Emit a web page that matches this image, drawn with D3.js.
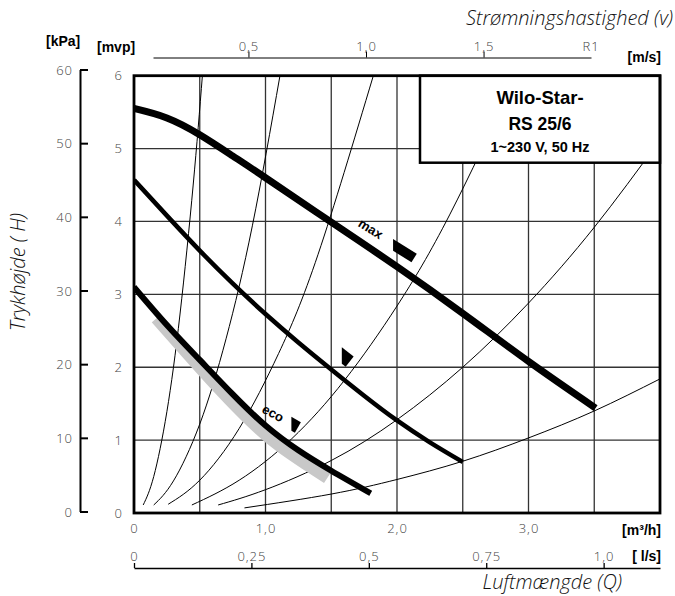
<!DOCTYPE html>
<html>
<head>
<meta charset="utf-8">
<script src="https://cdn.jsdelivr.net/npm/d3@7"></script>
<style>
  body { margin: 0; background: #fff; }
  svg { display: block; }
  .lbl { font-family: "Open Sans", sans-serif; font-size: 13px; font-weight: 300; fill: #444; letter-spacing: 1px; }
  .unit { font-family: "Liberation Sans", Arial, sans-serif; font-size: 14px; font-weight: bold; fill: #000; }
  .title { font-family: "Open Sans", sans-serif; font-style: italic; font-weight: 300; font-size: 20px; fill: #111; }
  .boxtxt { font-family: "Liberation Sans", Arial, sans-serif; font-weight: bold; fill: #000; text-anchor: middle; }
</style>
</head>
<body>
<svg id="chart" width="675" height="596"></svg>
<script>
// --- data ---
// flow axis (m³/h) and grid
const flowTicks  = [0, 1, 2, 3];
const flowLabels = ['0', '1,0', '2,0', '3,0'];
const gridFlow   = [0.5, 1, 1.5, 2, 2.5, 3, 3.5];
const gridHead   = [1, 2, 3, 4, 5];
// head axes
const mvpTicks = [0, 1, 2, 3, 4, 5, 6];
const kpaTicks = [0, 10, 20, 30, 40, 50, 60];
// l/s axis
const lpsTicks  = [0, 0.25, 0.5, 0.75, 1.0];
const lpsLabels = ['0', '0,25', '0,5', '0,75', '1,0'];
// velocity axis (m/s)
const velExtent = [0.094, 1.957];
const velTicks  = [0.5, 1.0, 1.5];
const velLabels = ['0,5', '1,0', '1,5'];

// pump curves [m³/h, mvp]
const curveMax = [[0, 5.55], [0.25, 5.42], [0.5, 5.19], [0.75, 4.9], [1.0, 4.6], [1.5, 3.99],
                  [2.0, 3.38], [2.5, 2.74], [3.0, 2.08], [3.51, 1.44]];
const curveMid = [[0, 4.57], [0.25, 4.08], [0.5, 3.6], [0.75, 3.15], [1.0, 2.73], [1.25, 2.34],
                  [1.5, 1.97], [1.75, 1.61], [2.0, 1.27], [2.25, 0.97], [2.5, 0.70]];
const curveEco = [[0, 3.1], [0.25, 2.58], [0.5, 2.1], [0.75, 1.63], [1.0, 1.2], [1.25, 0.86],
                  [1.5, 0.58], [1.8, 0.27]];
const ecoBand  = [[0.17, 2.67], [0.4, 2.2], [0.65, 1.7], [0.9, 1.24], [1.1, 0.93], [1.3, 0.68], [1.47, 0.48]];

// system curves [m³/h, mvp]
const sysA = [[0.07, 0.11], [0.15, 0.5], [0.25, 1.39], [0.35, 2.73], [0.45, 4.5], [0.52, 6.0]];
const sysB = [[0.15, 0.11], [0.3, 0.44], [0.5, 1.22], [0.7, 2.39], [0.9, 3.94], [1.11, 6.0]];
const sysC = [[0.26, 0.12], [0.5, 0.45], [0.8, 1.16], [1.1, 2.19], [1.4, 3.55], [1.82, 6.0]];
const sysD = [[0.44, 0.11], [0.8, 0.45], [1.2, 1.02], [1.6, 1.82], [2.0, 2.84], [2.4, 4.09], [2.91, 6.0]];
const sysE = [[0.64, 0.11], [1.0, 0.32], [1.5, 0.72], [2.0, 1.28], [2.5, 2.0], [3.0, 2.88], [3.5, 3.92], [4.0, 5.12]];
const sysF = [[0.84, 0.07], [1.5, 0.26], [2.0, 0.46], [2.5, 0.71], [3.0, 1.03], [3.5, 1.4], [4.0, 1.84]];

// speed step markers and labels
const markerPos  = [[2.04, 3.60], [1.595, 2.14], [1.21, 1.21]];
const curveNames = ['max', 'eco'];
const namePos    = [[1.80, 3.90], [1.058, 1.37]];

// --- scales ---
const svg = d3.select('#chart');
const x    = d3.scaleLinear().domain([0, 4]).range([134, 660]);
const y    = d3.scaleLinear().domain([0, 6]).range([513, 75.7]);
const yKpa = d3.scaleLinear().domain([0, 60]).range([512, 70]);
const xLps = d3.scaleLinear().domain([0, 1.12]).range([134, 660]);
const xVel = d3.scaleLinear().domain(velExtent).range([153, 591]);

svg.append('clipPath').attr('id', 'plotclip')
  .append('rect')
  .attr('x', x(0)).attr('y', y(6))
  .attr('width', x(4) - x(0)).attr('height', y(0) - y(6));

const plot = svg.append('g').attr('clip-path', 'url(#plotclip)');

// grid
plot.selectAll('.gx').data(gridFlow).join('line')
  .attr('x1', d => x(d)).attr('x2', d => x(d))
  .attr('y1', y(0)).attr('y2', y(6))
  .attr('stroke', '#333').attr('stroke-width', 1.3);
plot.selectAll('.gy').data(gridHead).join('line')
  .attr('y1', d => y(d)).attr('y2', d => y(d))
  .attr('x1', x(0)).attr('x2', x(4))
  .attr('stroke', '#333').attr('stroke-width', 1.3);

const line = d3.line()
  .x(d => x(d[0])).y(d => y(d[1]))
  .curve(d3.curveNatural);

// system curves
plot.selectAll('.sys').data([sysA, sysB, sysC, sysD, sysE, sysF]).join('path')
  .attr('d', line)
  .attr('fill', 'none').attr('stroke', '#000').attr('stroke-width', 1);

// eco range band
plot.append('path').datum(ecoBand)
  .attr('d', line)
  .attr('fill', 'none').attr('stroke', '#c8c8c8').attr('stroke-width', 12);

// pump curves
const pumpWidths = [7, 4.5, 6];
plot.selectAll('.pump').data([curveMax, curveMid, curveEco]).join('path')
  .attr('d', line)
  .attr('fill', 'none').attr('stroke', '#000')
  .attr('stroke-width', (d, i) => pumpWidths[i]);

// speed markers
const markerStyle = [{ len: 28, thick: 10, angle: 32 }, { len: 15, thick: 13, angle: 38 }, { len: 11, thick: 12, angle: 30 }];
svg.selectAll('.marker').data(markerPos).join('path')
  .attr('transform', (d, i) => `translate(${x(d[0])},${y(d[1])}) rotate(${markerStyle[i].angle})`)
  .attr('d', (d, i) => {
    const s = markerStyle[i], L = s.len, T = s.thick;
    const sh = T * Math.tan(s.angle * Math.PI / 180);
    return `M${-L / 2},${-T / 2}L${L / 2},${-T / 2}L${L / 2},${T / 2}L${-L / 2 + sh},${T / 2}Z`;
  })
  .attr('fill', '#000');

const nameAngle = [32, 28];
svg.selectAll('.cname').data(curveNames).join('text')
  .attr('transform', (d, i) => `translate(${x(namePos[i][0])},${y(namePos[i][1])}) rotate(${nameAngle[i]})`)
  .attr('text-anchor', 'middle').attr('dy', '0.35em')
  .attr('font-family', '"Liberation Sans", Arial, sans-serif')
  .attr('font-weight', 'bold').attr('font-size', 13)
  .text(d => d);

// type box
const bx = x(4) - 240, by = y(6);
svg.append('rect')
  .attr('x', bx).attr('y', by).attr('width', 240).attr('height', 87)
  .attr('fill', '#fff').attr('stroke', '#000').attr('stroke-width', 2.5);
const boxLines = [['Wilo-Star-', 18.5, 28], ['RS 25/6', 17.5, 54], ['1~230 V, 50 Hz', 14.5, 76]];
svg.selectAll('.boxtxt').data(boxLines).join('text')
  .attr('class', 'boxtxt')
  .attr('x', bx + 120).attr('y', d => by + d[2])
  .attr('font-size', d => d[1])
  .text(d => d[0]);

// plot frame
svg.append('rect')
  .attr('x', x(0)).attr('y', y(6))
  .attr('width', x(4) - x(0)).attr('height', y(0) - y(6))
  .attr('fill', 'none').attr('stroke', '#000').attr('stroke-width', 2.8);

// mvp labels
svg.selectAll('.mvp').data(mvpTicks).join('text')
  .attr('class', 'lbl')
  .attr('x', 123).attr('y', d => y(d)).attr('dy', '0.35em')
  .attr('text-anchor', 'end')
  .text(d => d);

// kPa axis (bracket style, ticks to the right)
const kpaG = svg.append('g');
kpaG.append('line')
  .attr('x1', 80.5).attr('x2', 80.5)
  .attr('y1', yKpa(60)).attr('y2', yKpa(0))
  .attr('stroke', '#000').attr('stroke-width', 2);
kpaG.selectAll('.kt').data(kpaTicks).join('line')
  .attr('x1', 80).attr('x2', 88)
  .attr('y1', d => yKpa(d)).attr('y2', d => yKpa(d))
  .attr('stroke', '#000').attr('stroke-width', 2);
kpaG.selectAll('.kl').data(kpaTicks).join('text')
  .attr('class', 'lbl')
  .attr('x', 73).attr('y', d => yKpa(d)).attr('dy', '0.35em')
  .attr('text-anchor', 'end')
  .text(d => d);

// flow axis (m³/h)
const flowAxis = svg.append('g')
  .attr('transform', `translate(0,${y(0)})`)
  .call(d3.axisBottom(x).tickValues(flowTicks).tickSize(0).tickPadding(11)
    .tickFormat((d, i) => flowLabels[i]));
flowAxis.select('.domain').remove();
flowAxis.selectAll('text').attr('class', 'lbl').attr('fill', null).attr('font-family', null).attr('font-size', null);

// l/s axis
const lpsAxis = svg.append('g')
  .attr('transform', 'translate(0,568)')
  .call(d3.axisTop(xLps).tickValues(lpsTicks).tickSize(5).tickSizeOuter(0).tickPadding(2)
    .tickFormat((d, i) => lpsLabels[i]));
lpsAxis.select('.domain').attr('stroke-width', 1.3);
lpsAxis.selectAll('line').attr('stroke-width', 1.3);
lpsAxis.selectAll('text').attr('class', 'lbl').attr('fill', null).attr('font-family', null).attr('font-size', null);

// velocity axis (m/s)
const velAxis = svg.append('g')
  .attr('transform', 'translate(0,57.5)')
  .call(d3.axisTop(xVel).tickValues(velTicks).tickSize(6).tickSizeOuter(0).tickPadding(1)
    .tickFormat((d, i) => velLabels[i]));
velAxis.selectAll('text').attr('class', 'lbl').attr('fill', null).attr('font-family', null).attr('font-size', null);
velAxis.append('text')
  .attr('class', 'lbl')
  .attr('x', xVel(velExtent[1])).attr('y', -7)
  .attr('text-anchor', 'middle')
  .text('R1');

// unit labels
svg.append('text').attr('class', 'unit').attr('x', 46).attr('y', 46).text('[kPa]');
svg.append('text').attr('class', 'unit').attr('x', 97).attr('y', 52).text('[mvp]');
svg.append('text').attr('class', 'unit').attr('x', 661).attr('y', 62).attr('text-anchor', 'end').text('[m/s]');
svg.append('text').attr('class', 'unit').attr('x', 661).attr('y', 535).attr('text-anchor', 'end').text('[m³/h]');
svg.append('text').attr('class', 'unit').attr('x', 661).attr('y', 561).attr('text-anchor', 'end').text('[ l/s]');

// titles
svg.append('text').attr('class', 'title')
  .attr('x', 673).attr('y', 25).attr('text-anchor', 'end')
  .text('Strømningshastighed (v)');
svg.append('text').attr('class', 'title')
  .attr('x', 622).attr('y', 589).attr('text-anchor', 'end')
  .text('Luftmængde (Q)');
svg.append('text').attr('class', 'title')
  .attr('transform', 'translate(25,272) rotate(-90)')
  .attr('text-anchor', 'middle')
  .text('Trykhøjde ( H)');
</script>
</body>
</html>
